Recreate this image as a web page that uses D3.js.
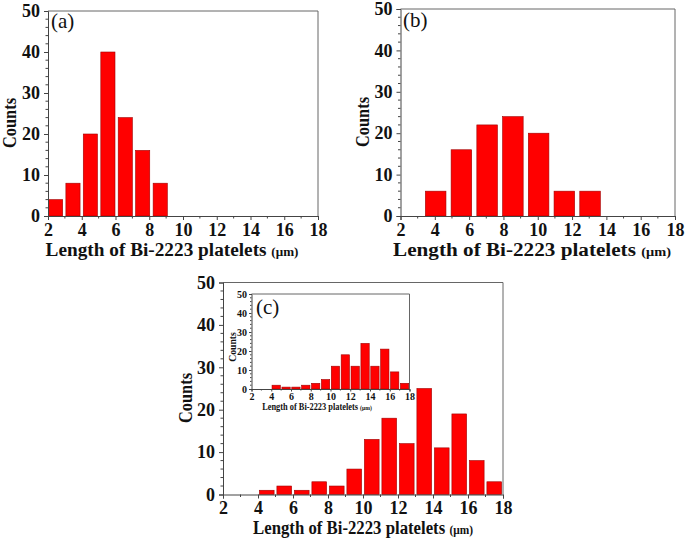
<!DOCTYPE html>
<html>
<head>
<meta charset="utf-8">
<script src="https://cdn.jsdelivr.net/npm/d3@7/dist/d3.min.js"></script>
<style>
  html, body { margin: 0; padding: 0; background: #fff; }
  svg { display: block; }
  text { font-family: "Liberation Serif", "Times New Roman", serif; }
</style>
</head>
<body>
<svg id="chart" width="685" height="541"></svg>
<script>
// ---- data ----
const xTickValues = [2, 4, 6, 8, 10, 12, 14, 16, 18];
const yTickValues = [0, 10, 20, 30, 40, 50];
const xLabel = "Length of Bi-2223 platelets ";
const xUnit = "(μm)";
const yLabel = "Counts";

const aCenters = [2.45, 3.48, 4.51, 5.55, 6.58, 7.61, 8.65];
const aCounts  = [4, 8, 20, 40, 24, 16, 8];

const bCenters = [4.05, 5.55, 7.05, 8.55, 10.05, 11.55, 13.05];
const bCounts  = [6, 16, 22, 24, 20, 6, 6];

const cCenters = [4.5, 5.5, 6.5, 7.5, 8.5, 9.5, 10.5, 11.5, 12.5, 13.5, 14.5, 15.5, 16.5, 17.5];
const cCounts  = [1, 2, 1, 3, 2, 6, 13, 18, 12, 25, 11, 19, 8, 3];
const insetCounts = [2, 1, 1, 2, 3, 5, 12, 18, 12, 24, 12, 21, 9, 3];

const svg = d3.select("#chart");

// place a text centred at (cx, cy), stretched horizontally to width w
function fitted(g, cx, cy, w, rot, build) {
  const outer = g.append("g");
  const inner = outer.append("g");
  const t = inner.append("text").attr("text-anchor", "middle").attr("x", 0).attr("y", 0);
  build(t);
  const bw = t.node().getBBox().width;
  const sx = bw > 0 ? w / bw : 1;
  inner.attr("transform", `scale(${sx},1)`);
  outer.attr("transform", `translate(${cx},${cy})` + (rot ? ` rotate(${rot})` : ""));
  return t;
}

function panel(cfg) {
  const g = svg.append("g");
  const x = d3.scaleLinear().domain([2, 18]).range([cfg.left, cfg.right]);
  const y = d3.scaleLinear().domain([0, 50]).range([cfg.bottom, cfg.top]);

  if (cfg.bg) {
    g.append("rect").attr("x", cfg.left).attr("y", cfg.top)
      .attr("width", cfg.right - cfg.left).attr("height", cfg.bottom - cfg.top)
      .attr("fill", "#fff");
  }

  g.selectAll("rect.bar").data(cfg.centers.map((c, i) => ({c, v: cfg.counts[i]})))
    .join("rect").attr("class", "bar")
    .attr("x", d => x(d.c - cfg.bw / 2))
    .attr("width", d => x(d.c + cfg.bw / 2) - x(d.c - cfg.bw / 2))
    .attr("y", d => y(d.v))
    .attr("height", d => y(0) - y(d.v))
    .attr("fill", "#ff0000")
    .attr("stroke", "#a00000")
    .attr("stroke-width", 0.6);

  g.append("path")
    .attr("d", `M${cfg.left},${cfg.top}H${cfg.right}V${cfg.bottom}`)
    .attr("fill", "none").attr("stroke", "#666").attr("stroke-width", 1);

  const xAxis = d3.axisBottom(x).tickValues(xTickValues).tickSize(cfg.tick).tickPadding(cfg.xpad).tickFormat(d3.format("d"));
  const gx = g.append("g").attr("transform", `translate(0,${cfg.bottom})`).call(xAxis);
  const yAxis = d3.axisLeft(y).tickValues(yTickValues).tickSize(cfg.tick).tickPadding(cfg.ypad).tickFormat(d3.format("d"));
  const gy = g.append("g").attr("transform", `translate(${cfg.left},0)`).call(yAxis);
  [gx, gy].forEach(a => {
    a.select(".domain").attr("stroke", "#444").attr("stroke-width", 1);
    a.selectAll(".tick line").attr("stroke", "#444");
    a.selectAll(".tick text").attr("fill", "#111").attr("font-weight", "bold")
      .attr("font-size", cfg.tickFont).attr("font-family", '"Liberation Serif", serif');
  });

  const xMinor = d3.range(3, 18, 2);
  g.selectAll("line.xm").data(xMinor).join("line")
    .attr("x1", d => x(d)).attr("x2", d => x(d))
    .attr("y1", cfg.bottom).attr("y2", cfg.bottom + cfg.minor)
    .attr("stroke", "#444");
  const yMinor = d3.range(2, 50, 2).filter(v => v % 10 !== 0);
  g.selectAll("line.ym").data(yMinor).join("line")
    .attr("x1", cfg.left - cfg.minor).attr("x2", cfg.left)
    .attr("y1", d => y(d)).attr("y2", d => y(d))
    .attr("stroke", "#444");

  fitted(g, cfg.xlx, cfg.xly, cfg.xlLen, 0, t => {
    t.attr("font-weight", "bold").attr("font-size", cfg.titleFont).attr("fill", "#111");
    t.append("tspan").text(xLabel);
    t.append("tspan").attr("font-size", cfg.titleFont * 0.68).text(xUnit);
  });

  fitted(g, cfg.ylx, cfg.yly, cfg.ylLen, -90, t => {
    t.attr("font-weight", "bold").attr("font-size", cfg.titleFont).attr("fill", "#111").text(yLabel);
  });

  if (cfg.tag) {
    g.append("text").attr("x", cfg.tagx).attr("y", cfg.tagy)
      .attr("font-size", cfg.tagFont).attr("fill", "#111").text(cfg.tag);
  }
}

const big = { tick: 4, minor: 2.5, xpad: 3, ypad: 4, tickFont: 18, titleFont: 19, ylLen: 50 };

panel(Object.assign({}, big, {
  left: 48, right: 318, top: 11, bottom: 216,
  centers: aCenters, counts: aCounts, bw: 0.84,
  xlx: 172, xly: 256, xlLen: 253, ylx: 16, yly: 123,
  tag: "(a)", tagx: 51, tagy: 28, tagFont: 21
}));

panel(Object.assign({}, big, {
  left: 400.5, right: 675, top: 9, bottom: 216,
  centers: bCenters, counts: bCounts, bw: 1.2,
  xlx: 532, xly: 256, xlLen: 278, ylx: 369, yly: 122,
  tag: "(b)", tagx: 403, tagy: 27, tagFont: 21
}));

panel(Object.assign({}, big, {
  left: 223, right: 503, top: 282.5, bottom: 494.5,
  centers: cCenters, counts: cCounts, bw: 0.84,
  xlx: 363, xly: 534, xlLen: 220, ylx: 192, yly: 398
}));

panel({
  tick: 2.5, minor: 1.5, xpad: 1.5, ypad: 2, tickFont: 10, titleFont: 9.5, ylLen: 30,
  left: 251.5, right: 409.5, top: 294, bottom: 389, bg: true,
  centers: cCenters, counts: insetCounts, bw: 0.84,
  xlx: 317, xly: 410, xlLen: 110, ylx: 236, yly: 347,
  tag: "(c)", tagx: 256, tagy: 314, tagFont: 21
});
</script>
</body>
</html>
